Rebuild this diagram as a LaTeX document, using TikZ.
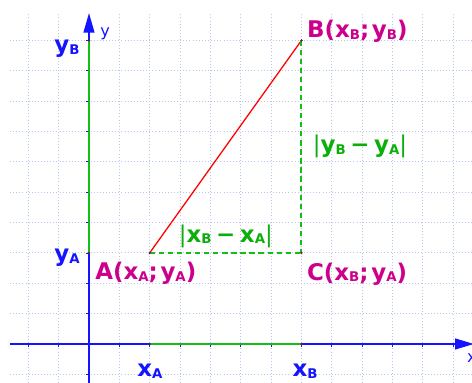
\documentclass[tikz,border=0pt]{standalone}
\usepackage{fontspec}
\setmainfont{DejaVu Sans}
\usetikzlibrary{arrows.meta}
\definecolor{gridc}{RGB}{180,200,240}
\definecolor{axisc}{RGB}{20,20,255}
\definecolor{greenl}{RGB}{20,190,20}
\definecolor{greent}{RGB}{10,175,10}
\definecolor{magc}{RGB}{204,0,140}
\definecolor{dotc}{RGB}{110,30,70}
\newcommand\sbs[1]{\raisebox{-1.5pt}{\fontsize{12.5}{12.5}\selectfont #1}}
\newcommand\thinbar{{\mdseries|}}
\begin{document}
\begin{tikzpicture}[x=1cm,y=1cm,
  lab/.style={inner sep=0pt, font=\fontsize{21.5}{22}\selectfont\bfseries},
  axisline/.style={axisc, line width=1.2pt},
  dashg/.style={draw=greenl, line width=1.5pt, dash pattern=on 5pt off 3.5pt},
  dotp/.style={fill=dotc}]
\useasboundingbox (-2.932,-1.285) rectangle (12.620,11.334);
\fill[white] (-2.932,-1.285) rectangle (12.620,11.334);
% grid
\draw[gridc, dotted, line width=0.9pt] (-2.6,-1.3) grid (12.7,10.9);
% points
\coordinate (O) at (0,0);
\coordinate (A) at (2,3);
\coordinate (B) at (7,10);
\coordinate (C) at (7,3);
\coordinate (XA) at (2,0);
\coordinate (XB) at (7,0);
\coordinate (YA) at (0,3);
\coordinate (YB) at (0,10);
\coordinate (xs) at (-2.6,0);
\coordinate (xe) at (12.68,0);
\coordinate (ys) at (0,-1.3);
\coordinate (ye) at (0,10.9);
% axes
\draw[axisline, -{Triangle[length=0.62cm,width=0.36cm]}] (xs) -- (xe);
\draw[axisline, -{Triangle[length=0.64cm,width=0.36cm]}] (ys) -- (ye);
\foreach \t in {-2,-1,1,2,...,12} \draw[axisc, line width=0.8pt] (\t,0) -- (\t,-0.1);
\foreach \t in {-1,1,2,...,10} \draw[axisc, line width=0.8pt] (0,\t) -- (-0.1,\t);
% green projections
\draw[greenl, line width=1.4pt] (YA) -- (YB);
\draw[greenl, line width=1.4pt] (XA) -- (XB);
% segment
\draw[red, line width=1.2pt] (A) -- (B);
\draw[dashg] (A) -- (C);
\draw[dashg, line width=1.8pt] (B) -- (C);
% dots
\foreach \p in {A,B,C,XA,XB,YA,YB} \fill[dotp] (\p) circle (0.045);
% labels
\node[axisc, inner sep=0pt, font=\fontsize{15}{15}\selectfont] (ly) at (0.53,10.22) {y};
\node[axisc, inner sep=0pt, font=\fontsize{15}{15}\selectfont, anchor=west] (lx) at (12.45,-0.45) {x};
\node[lab, axisc] (lyb) at (-0.725,9.72) {y\sbs{B}};
\node[lab, axisc] (lya) at (-0.725,2.83) {y\sbs{A}};
\node[lab, axisc] (lxa) at (2.01,-0.89) {x\sbs{A}};
\node[lab, axisc] (lxb) at (7.12,-0.89) {x\sbs{B}};
\node[lab, magc, anchor=west] (la) at (0.2,2.33) {A(x\sbs{A};\hspace{0.12em}y\sbs{A})};
\node[lab, magc, anchor=west] (lb) at (7.18,10.30) {B(x\sbs{B};\hspace{0.12em}y\sbs{B})};
\node[lab, magc, anchor=west] (lc) at (7.18,2.31) {C(x\sbs{B};\hspace{0.12em}y\sbs{A})};
\node[lab, greent] (ldx) at (4.51,3.55) {\thinbar x\sbs{B}\hspace{0.2em}−\hspace{0.2em}x\sbs{A}\thinbar};
\node[lab, greent] (ldy) at (8.93,6.5) {\thinbar y\sbs{B}\hspace{0.2em}−\hspace{0.2em}y\sbs{A}\thinbar};
\end{tikzpicture}
\end{document}
